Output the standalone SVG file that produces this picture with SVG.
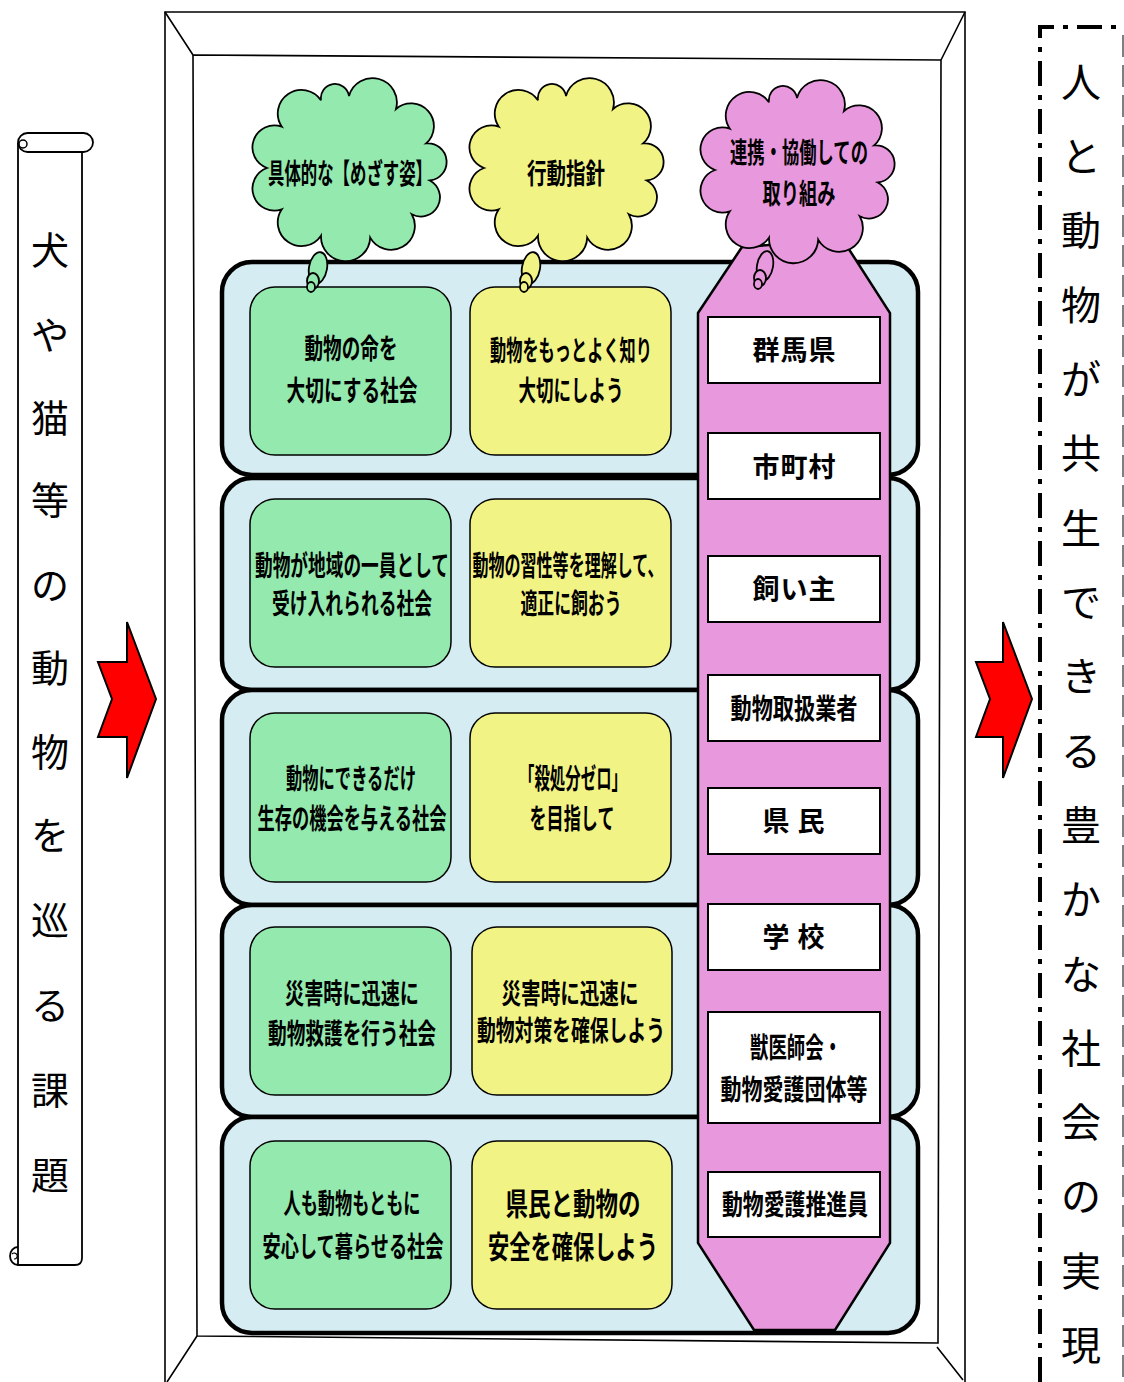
<svg xmlns="http://www.w3.org/2000/svg" xmlns:xlink="http://www.w3.org/1999/xlink" width="1124" height="1382" viewBox="0 0 1124 1382">
<style>
.frame{fill:none;stroke:#000;stroke-width:1.6}
.panel{fill:#d5ecf2;stroke:#000;stroke-width:4.5}
.gb{fill:#93e9ae;stroke:#000;stroke-width:1.5}
.yb{fill:#f2f385;stroke:#000;stroke-width:1.5}
.pk{fill:#e898dc;stroke:#000;stroke-width:2.5}
.lbl{fill:#fff;stroke:#000;stroke-width:2}
.cg{fill:#93e9ae;stroke:#000;stroke-width:1.8}
.cy{fill:#f2f385;stroke:#000;stroke-width:1.8}
.cp{fill:#e898dc;stroke:#000;stroke-width:1.8}
.arrow{fill:#ff0000;stroke:#000;stroke-width:2}
.t{font-family:"Noto Sans CJK JP","Noto Sans CJK SC",sans-serif;font-weight:bold;font-size:28px;text-anchor:middle;fill:#000}
.l{font-family:"Noto Sans CJK JP","Noto Sans CJK SC",sans-serif;font-weight:bold;font-size:27px;text-anchor:middle;fill:#000}
.v{font-family:"Noto Sans CJK JP","Noto Sans CJK SC",sans-serif;font-weight:normal;font-size:38px;text-anchor:middle;fill:#000}
.vr{font-family:"Noto Sans CJK JP","Noto Sans CJK SC",sans-serif;font-weight:normal;font-size:40px;text-anchor:middle;fill:#000}
</style>
<defs>
<path id="cloud" d="M0,-72 A1,1 0 0 1 47,-59 A1,1 0 0 1 77.1,-24.6 A1,1 0 0 1 80.8,12.5 A1,1 0 0 1 62.8,46.3 A1,1 0 0 1 21.2,69.6 A1,1 0 0 1 -28,67.7 A1,1 0 0 1 -67.2,41.3 A1,1 0 0 1 -82,0 A1,1 0 0 1 -67.2,-41.3 A1,1 0 0 1 -28,-67.7 A1,1 0 0 1 0,-72 Z"/>
</defs>
<rect width="1124" height="1382" fill="#fff"/>

<g id="frame">
<path class="frame" d="M165,1382 L165,12 L965,12 L965,1382"/>
<path class="frame" d="M193,55 L941,60 L938,1343 L197,1336 Z"/>
<path class="frame" d="M165,12 L193,55 M965,12 L941,60 M197,1336 L167,1382 M937,1347 L963,1380"/>
</g>

<g id="scroll">
<path d="M18,143 L18,1265 L75,1265 Q82,1265 82,1258 L82,152" fill="#fff" stroke="#000" stroke-width="1.8"/>
<rect x="18" y="133" width="75" height="19" rx="9.5" fill="#fff" stroke="#000" stroke-width="1.8"/>
<circle cx="23" cy="144" r="4" fill="none" stroke="#000" stroke-width="1.5"/>
<path d="M18,1247 A8,9 0 1 0 18,1265" fill="none" stroke="#000" stroke-width="1.8"/>
<path d="M12,1254 A3,3 0 1 1 14,1259" fill="none" stroke="#000" stroke-width="1.2"/>
<text class="v" x="50" y="264">犬</text>
<text class="v" x="50" y="349">や</text>
<text class="v" x="50" y="432">猫</text>
<text class="v" x="50" y="514">等</text>
<text class="v" x="50" y="599">の</text>
<text class="v" x="50" y="682">動</text>
<text class="v" x="50" y="766">物</text>
<text class="v" x="50" y="849">を</text>
<text class="v" x="50" y="934">巡</text>
<text class="v" x="50" y="1019">る</text>
<text class="v" x="50" y="1104">課</text>
<text class="v" x="50" y="1189">題</text>
</g>

<g id="connectors">
<polygon class="arrow" points="127,622 156,699 127,778 127,737 98,737 112,699 98,662 127,662"/>
<polygon class="arrow" points="1003,622 1032,699 1003,778 1003,737 976,737 990,699 976,662 1003,662"/>
</g>

<g id="panels">
<rect class="panel" x="222" y="262" width="696" height="213" rx="30"/>
<rect class="panel" x="222" y="478" width="696" height="212" rx="30"/>
<rect class="panel" x="222" y="690" width="696" height="215" rx="30"/>
<rect class="panel" x="222" y="905" width="696" height="212" rx="30"/>
<rect class="panel" x="222" y="1117" width="696" height="216" rx="30"/>
</g>

<g id="row1">
<rect class="gb" x="250" y="287" width="201" height="168" rx="25"/>
<text class="t" x="351" y="359" textLength="93" lengthAdjust="spacingAndGlyphs">動物の命を</text>
<text class="t" x="352" y="401" textLength="131" lengthAdjust="spacingAndGlyphs">大切にする社会</text>
<rect class="yb" x="470" y="287" width="201" height="168" rx="25"/>
<text class="t" x="571" y="361" textLength="162" lengthAdjust="spacingAndGlyphs">動物をもっとよく知り</text>
<text class="t" x="571" y="401" textLength="105" lengthAdjust="spacingAndGlyphs">大切にしよう</text>
</g>
<g id="row2">
<rect class="gb" x="250" y="499" width="201" height="168" rx="25"/>
<text class="t" x="352" y="576" textLength="194" lengthAdjust="spacingAndGlyphs">動物が地域の一員として</text>
<text class="t" x="352" y="614" textLength="160" lengthAdjust="spacingAndGlyphs">受け入れられる社会</text>
<rect class="yb" x="470" y="499" width="201" height="168" rx="25"/>
<text class="t" x="568" y="576" textLength="191" lengthAdjust="spacingAndGlyphs">動物の習性等を理解して、</text>
<text class="t" x="571" y="614" textLength="101" lengthAdjust="spacingAndGlyphs">適正に飼おう</text>
</g>
<g id="row3">
<rect class="gb" x="250" y="713" width="201" height="169" rx="25"/>
<text class="t" x="351" y="789" textLength="130" lengthAdjust="spacingAndGlyphs">動物にできるだけ</text>
<text class="t" x="352" y="829" textLength="189" lengthAdjust="spacingAndGlyphs">生存の機会を与える社会</text>
<rect class="yb" x="470" y="713" width="201" height="169" rx="25"/>
<text class="t" x="573" y="789" textLength="108" lengthAdjust="spacingAndGlyphs">「殺処分ゼロ」</text>
<text class="t" x="572" y="829" textLength="85" lengthAdjust="spacingAndGlyphs">を目指して</text>
</g>
<g id="row4">
<rect class="gb" x="250" y="927" width="201" height="168" rx="25"/>
<text class="t" x="352" y="1004" textLength="134" lengthAdjust="spacingAndGlyphs">災害時に迅速に</text>
<text class="t" x="352" y="1044" textLength="168" lengthAdjust="spacingAndGlyphs">動物救護を行う社会</text>
<rect class="yb" x="472" y="927" width="200" height="168" rx="25"/>
<text class="t" x="570" y="1004" textLength="137" lengthAdjust="spacingAndGlyphs">災害時に迅速に</text>
<text class="t" x="571" y="1041" textLength="188" lengthAdjust="spacingAndGlyphs">動物対策を確保しよう</text>
</g>
<g id="row5">
<rect class="gb" x="250" y="1141" width="201" height="168" rx="25"/>
<text class="t" x="352" y="1214" textLength="137" lengthAdjust="spacingAndGlyphs">人も動物もともに</text>
<text class="t" x="353" y="1257" textLength="181" lengthAdjust="spacingAndGlyphs">安心して暮らせる社会</text>
<rect class="yb" x="472" y="1141" width="200" height="168" rx="25"/>
<text class="t" x="573" y="1215" style="font-size:31px" textLength="135" lengthAdjust="spacingAndGlyphs">県民と動物の</text>
<text class="t" x="573" y="1258" style="font-size:31px" textLength="170" lengthAdjust="spacingAndGlyphs">安全を確保しよう</text>
</g>

<g id="partners">
<polygon class="pk" points="742,247 843,240 890,313 890,1243 835,1330 754,1330 698,1243 698,313"/>
<rect class="lbl" x="708" y="317" width="172" height="66"/>
<text class="l" x="766 794 822" y="360">群馬県</text>
<rect class="lbl" x="708" y="433" width="172" height="66"/>
<text class="l" x="766 794 822" y="477">市町村</text>
<rect class="lbl" x="708" y="556" width="172" height="66"/>
<text class="l" x="766 794 822" y="599">飼い主</text>
<rect class="lbl" x="708" y="675" width="172" height="66"/>
<text class="t" x="794" y="719" textLength="127" lengthAdjust="spacingAndGlyphs">動物取扱業者</text>
<rect class="lbl" x="708" y="788" width="172" height="66"/>
<text class="l" x="776 811" y="831">県民</text>
<rect class="lbl" x="708" y="904" width="172" height="66"/>
<text class="l" x="776 811" y="947">学校</text>
<rect class="lbl" x="708" y="1012" width="172" height="111"/>
<text class="t" x="796" y="1058" textLength="92" lengthAdjust="spacingAndGlyphs">獣医師会・</text>
<text class="t" x="794" y="1100" textLength="147" lengthAdjust="spacingAndGlyphs">動物愛護団体等</text>
<rect class="lbl" x="708" y="1172" width="172" height="65"/>
<text class="t" x="795" y="1215" textLength="146" lengthAdjust="spacingAndGlyphs">動物愛護推進員</text>
</g>

<g id="cloud-goal">
<use xlink:href="#cloud" href="#cloud" class="cg" transform="translate(349,168)"/>
<ellipse class="cg" cx="318" cy="268" rx="9" ry="16" transform="rotate(10 318 268)"/>
<ellipse class="cg" cx="313" cy="281" rx="6" ry="8"/>
<ellipse class="cg" cx="311" cy="287" rx="4" ry="5"/>
<text class="t" x="350" y="184" textLength="164" lengthAdjust="spacingAndGlyphs">具体的な【めざす姿】</text>
</g>
<g id="cloud-action">
<use xlink:href="#cloud" href="#cloud" class="cy" transform="translate(566,168)"/>
<ellipse class="cy" cx="531" cy="268" rx="9" ry="16" transform="rotate(10 531 268)"/>
<ellipse class="cy" cx="526" cy="281" rx="6" ry="8"/>
<ellipse class="cy" cx="524" cy="287" rx="4" ry="5"/>
<text class="t" x="566" y="184" textLength="78" lengthAdjust="spacingAndGlyphs">行動指針</text>
</g>
<g id="cloud-partner">
<use xlink:href="#cloud" href="#cloud" class="cp" transform="translate(797,170)"/>
<ellipse class="cp" cx="765" cy="266" rx="8" ry="15" transform="rotate(10 765 266)"/>
<ellipse class="cp" cx="760" cy="278" rx="6" ry="8"/>
<ellipse class="cp" cx="758" cy="284" rx="4" ry="5"/>
<text class="t" x="799" y="163" textLength="138" lengthAdjust="spacingAndGlyphs">連携・協働しての</text>
<text class="t" x="799" y="204" textLength="73" lengthAdjust="spacingAndGlyphs">取り組み</text>
</g>

<g id="goal">
<path d="M1040,1382 L1040,27 L1124,27" fill="none" stroke="#000" stroke-width="4" stroke-dasharray="25 9 5 9"/>
<line x1="1123" y1="35" x2="1123" y2="1382" stroke="#555" stroke-width="1.5" stroke-dasharray="22 8"/>
<text class="vr" x="1081" y="97">人</text>
<text class="vr" x="1081" y="171">と</text>
<text class="vr" x="1081" y="245">動</text>
<text class="vr" x="1081" y="320">物</text>
<text class="vr" x="1081" y="394">が</text>
<text class="vr" x="1081" y="468">共</text>
<text class="vr" x="1081" y="543">生</text>
<text class="vr" x="1081" y="617">で</text>
<text class="vr" x="1081" y="691">き</text>
<text class="vr" x="1081" y="766">る</text>
<text class="vr" x="1081" y="840">豊</text>
<text class="vr" x="1081" y="914">か</text>
<text class="vr" x="1081" y="989">な</text>
<text class="vr" x="1081" y="1063">社</text>
<text class="vr" x="1081" y="1137">会</text>
<text class="vr" x="1081" y="1211">の</text>
<text class="vr" x="1081" y="1286">実</text>
<text class="vr" x="1081" y="1360">現</text>
</g>
</svg>
